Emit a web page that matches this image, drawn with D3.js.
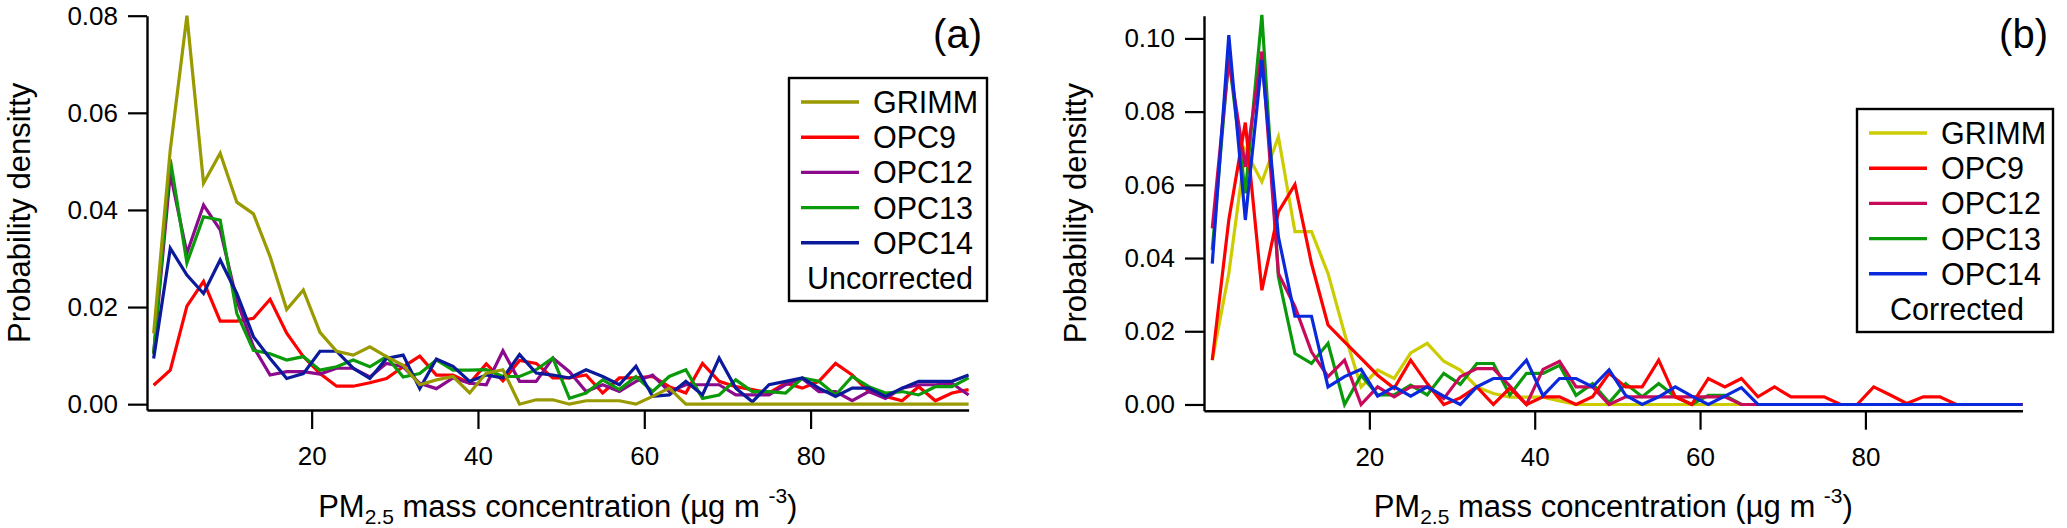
<!DOCTYPE html>
<html>
<head>
<meta charset="utf-8">
<script src="https://cdn.jsdelivr.net/npm/d3@7"></script>
<style>
  body { margin: 0; background: #fff; }
  text { font-family: "Liberation Sans", Arial, sans-serif; fill: #000; }
</style>
</head>
<body>
<div id="chart"></div>
<script>
// Bin centres (µg m-3), shared by both panels
const binCenters = [1, 3, 5, 7, 9, 11, 13, 15, 17, 19, 21, 23, 25, 27, 29, 31, 33, 35, 37, 39,
  41, 43, 45, 47, 49, 51, 53, 55, 57, 59, 61, 63, 65, 67, 69, 71, 73, 75, 77, 79,
  81, 83, 85, 87, 89, 91, 93, 95, 97, 99];

const seriesNames = ["GRIMM", "OPC9", "OPC12", "OPC13", "OPC14"];

// (a) uncorrected
const grimmA = [0.0146, 0.0524, 0.0800, 0.0455, 0.0517, 0.0416, 0.0392, 0.0304, 0.0195, 0.0235,
  0.0148, 0.0109, 0.0101, 0.0118, 0.0098, 0.0080, 0.0040, 0.0050, 0.0057, 0.0023,
  0.0064, 0.0071, 0.0000, 0.0009, 0.0009, 0.0000, 0.0007, 0.0007, 0.0007, 0.0000,
  0.0016, 0.0033, 0.0000, 0.0000, 0.0000, 0.0000, 0.0000, 0.0000, 0.0000, 0.0000,
  0.0000, 0.0000, 0.0000, 0.0000, 0.0000, 0.0000, 0.0000, 0.0000, 0.0000, 0.0000];
const opc9A = [0.0039, 0.0070, 0.0202, 0.0253, 0.0171, 0.0171, 0.0177, 0.0216, 0.0146, 0.0098,
  0.0063, 0.0037, 0.0037, 0.0044, 0.0053, 0.0077, 0.0099, 0.0060, 0.0060, 0.0043,
  0.0083, 0.0048, 0.0090, 0.0084, 0.0054, 0.0054, 0.0060, 0.0023, 0.0054, 0.0054,
  0.0057, 0.0036, 0.0023, 0.0084, 0.0047, 0.0036, 0.0030, 0.0023, 0.0043, 0.0033,
  0.0047, 0.0084, 0.0060, 0.0026, 0.0016, 0.0007, 0.0036, 0.0007, 0.0023, 0.0030];
const opc12A = [0.0104, 0.0475, 0.0311, 0.0410, 0.0359, 0.0214, 0.0118, 0.0060, 0.0067, 0.0067,
  0.0062, 0.0074, 0.0074, 0.0056, 0.0084, 0.0077, 0.0043, 0.0032, 0.0054, 0.0043,
  0.0040, 0.0110, 0.0047, 0.0047, 0.0095, 0.0067, 0.0026, 0.0040, 0.0026, 0.0047,
  0.0060, 0.0026, 0.0040, 0.0040, 0.0040, 0.0019, 0.0019, 0.0019, 0.0040, 0.0053,
  0.0026, 0.0026, 0.0007, 0.0026, 0.0012, 0.0033, 0.0040, 0.0040, 0.0043, 0.0019];
const opc13A = [0.0104, 0.0504, 0.0291, 0.0386, 0.0379, 0.0187, 0.0111, 0.0104, 0.0091, 0.0098,
  0.0070, 0.0077, 0.0091, 0.0077, 0.0098, 0.0056, 0.0063, 0.0091, 0.0070, 0.0070,
  0.0071, 0.0057, 0.0057, 0.0071, 0.0095, 0.0012, 0.0023, 0.0050, 0.0030, 0.0057,
  0.0026, 0.0057, 0.0071, 0.0012, 0.0019, 0.0050, 0.0026, 0.0026, 0.0023, 0.0054,
  0.0047, 0.0019, 0.0057, 0.0036, 0.0023, 0.0026, 0.0019, 0.0036, 0.0036, 0.0054];
const opc14A = [0.0094, 0.0321, 0.0266, 0.0228, 0.0297, 0.0228, 0.0139, 0.0094, 0.0053, 0.0063,
  0.0109, 0.0109, 0.0074, 0.0053, 0.0094, 0.0101, 0.0032, 0.0093, 0.0078, 0.0047,
  0.0060, 0.0054, 0.0102, 0.0064, 0.0060, 0.0054, 0.0071, 0.0057, 0.0040, 0.0078,
  0.0016, 0.0019, 0.0047, 0.0019, 0.0095, 0.0033, 0.0005, 0.0040, 0.0047, 0.0054,
  0.0033, 0.0016, 0.0033, 0.0033, 0.0016, 0.0033, 0.0047, 0.0047, 0.0047, 0.0060];

// (b) corrected
const grimmB = [0.0121, 0.0358, 0.0695, 0.0608, 0.0731, 0.0472, 0.0472, 0.0358, 0.0194, 0.0048,
  0.0094, 0.0071, 0.0141, 0.0167, 0.0118, 0.0094, 0.0048, 0.0030, 0.0020, 0.0020,
  0.0020, 0.0010, 0.0000, 0.0000, 0.0000, 0.0000, 0.0000, 0.0000, 0.0000, 0.0000,
  0.0000, 0.0000, 0.0000, 0.0000, 0.0000, 0.0000, 0.0000, 0.0000, 0.0000, 0.0000,
  0.0000, 0.0000, 0.0000, 0.0000, 0.0000, 0.0000, 0.0000, 0.0000, 0.0000, 0.0000];
const opc9B = [0.0121, 0.0504, 0.0770, 0.0312, 0.0526, 0.0601, 0.0385, 0.0217, 0.0171, 0.0126,
  0.0080, 0.0044, 0.0121, 0.0057, 0.0000, 0.0018, 0.0048, 0.0000, 0.0045, 0.0000,
  0.0021, 0.0021, 0.0000, 0.0021, 0.0085, 0.0048, 0.0048, 0.0121, 0.0021, 0.0000,
  0.0071, 0.0048, 0.0071, 0.0021, 0.0048, 0.0021, 0.0021, 0.0021, 0.0000, 0.0000,
  0.0048, 0.0026, 0.0003, 0.0021, 0.0021, 0.0000, 0.0000, 0.0000, 0.0000, 0.0000];
const opc12B = [0.0481, 0.0941, 0.0649, 0.0964, 0.0358, 0.0267, 0.0144, 0.0076, 0.0121, 0.0000,
  0.0048, 0.0021, 0.0048, 0.0048, 0.0016, 0.0076, 0.0098, 0.0098, 0.0050, 0.0000,
  0.0096, 0.0118, 0.0048, 0.0048, 0.0000, 0.0021, 0.0021, 0.0021, 0.0021, 0.0021,
  0.0021, 0.0021, 0.0000, 0.0000, 0.0000, 0.0000, 0.0000, 0.0000, 0.0000, 0.0000,
  0.0000, 0.0000, 0.0000, 0.0000, 0.0000, 0.0000, 0.0000, 0.0000, 0.0000, 0.0000];
const opc13B = [0.0422, 0.0950, 0.0577, 0.1064, 0.0349, 0.0139, 0.0112, 0.0167, 0.0000, 0.0080,
  0.0026, 0.0026, 0.0053, 0.0026, 0.0085, 0.0055, 0.0112, 0.0112, 0.0026, 0.0085,
  0.0085, 0.0107, 0.0025, 0.0057, 0.0005, 0.0057, 0.0021, 0.0057, 0.0021, 0.0000,
  0.0025, 0.0025, 0.0000, 0.0000, 0.0000, 0.0000, 0.0000, 0.0000, 0.0000, 0.0000,
  0.0000, 0.0000, 0.0000, 0.0000, 0.0000, 0.0000, 0.0000, 0.0000, 0.0000, 0.0000];
const opc14B = [0.0385, 0.1009, 0.0504, 0.0941, 0.0458, 0.0241, 0.0241, 0.0048, 0.0076, 0.0096,
  0.0023, 0.0048, 0.0023, 0.0048, 0.0023, 0.0000, 0.0048, 0.0071, 0.0071, 0.0121,
  0.0024, 0.0071, 0.0071, 0.0048, 0.0095, 0.0025, 0.0000, 0.0021, 0.0048, 0.0023,
  0.0000, 0.0023, 0.0046, 0.0000, 0.0000, 0.0000, 0.0000, 0.0000, 0.0000, 0.0000,
  0.0000, 0.0000, 0.0000, 0.0000, 0.0000, 0.0000, 0.0000, 0.0000, 0.0000, 0.0000];

const xTicks = [20, 40, 60, 80];
const yTicksA = [0, 0.02, 0.04, 0.06, 0.08];
const yTicksB = [0, 0.02, 0.04, 0.06, 0.08, 0.10];

const width = 2067;
const height = 528;

const svg = d3.select("#chart")
  .append("svg")
  .attr("width", width)
  .attr("height", height);

const panels = [
  {
    tag: "(a)", note: "Uncorrected",
    series: [grimmA, opc9A, opc12A, opc13A, opc14A],
    colors: ["#999900", "#ff0000", "#8c0a8c", "#0a9a0a", "#0a1a9a"],
    drawOrder: [1, 2, 3, 4, 0],
    yTicks: yTicksA,
    xDomain: [0.2, 99], xRange: [147, 968.6],
    yDomain: [-0.0012, 0.08], yRange: [410, 15.7],
    yLabelX: 30,
    legend: { x: 789, y: 78, w: 198, h: 223 }
  },
  {
    tag: "(b)", note: "Corrected",
    series: [grimmB, opc9B, opc12B, opc13B, opc14B],
    colors: ["#cccc00", "#ff0000", "#c80a5a", "#0a990a", "#0a28dc"],
    drawOrder: [0, 3, 2, 1, 4],
    yTicks: yTicksB,
    xDomain: [0, 99], xRange: [1204, 2022.5],
    yDomain: [-0.0017, 0.1062], yRange: [410.7, 15.7],
    yLabelX: 1086,
    legend: { x: 1857, y: 109, w: 196, h: 223 }
  }
];

panels.forEach(drawPanel);

function drawPanel(p) {
  const x = d3.scaleLinear().domain(p.xDomain).range(p.xRange);
  const y = d3.scaleLinear().domain(p.yDomain).range(p.yRange);
  const g = svg.append("g");

  // lines
  const line = d3.line()
    .x((d, i) => x(binCenters[i]))
    .y(d => y(d));

  g.selectAll(".series")
    .data(p.drawOrder)
    .enter()
    .append("path")
    .attr("class", "series")
    .attr("d", k => line(p.series[k]))
    .attr("fill", "none")
    .attr("stroke", k => p.colors[k])
    .attr("stroke-width", 3.2)
    .attr("stroke-linejoin", "miter");

  // axes
  const xAxis = d3.axisBottom(x)
    .tickValues(xTicks)
    .tickSize(19)
    .tickSizeOuter(0)
    .tickPadding(18)
    .tickFormat(d3.format("d"));

  const yAxis = d3.axisLeft(y)
    .tickValues(p.yTicks)
    .tickSize(19)
    .tickSizeOuter(0)
    .tickPadding(10)
    .tickFormat(d3.format(".2f"));

  const gx = g.append("g")
    .attr("transform", `translate(0, ${p.yRange[0]})`)
    .call(xAxis);

  const gy = g.append("g")
    .attr("transform", `translate(${p.xRange[0]}, 0)`)
    .call(yAxis);

  [gx, gy].forEach(a => {
    a.select(".domain").attr("stroke", "#000").attr("stroke-width", 2.4);
    a.selectAll(".tick line").attr("stroke", "#000").attr("stroke-width", 2.2);
    a.selectAll(".tick text")
      .attr("font-size", "26px")
      .attr("font-family", "'Liberation Sans', Arial, sans-serif")
      .attr("fill", "#000");
  });

  // axis titles
  const cx = (p.xRange[0] + p.xRange[1]) / 2;
  const xt = g.append("text")
    .attr("x", cx)
    .attr("y", 517)
    .attr("text-anchor", "middle")
    .attr("font-size", "31px");
  xt.append("tspan").text("PM");
  xt.append("tspan").attr("dy", 7).attr("font-size", "21px").text("2.5");
  xt.append("tspan").attr("dy", -7).text(" mass concentration (µg m ");
  xt.append("tspan").attr("dy", -14).attr("font-size", "21px").text("-3");
  xt.append("tspan").attr("dy", 14).text(")");

  const cy = (p.yRange[0] + p.yRange[1]) / 2;
  g.append("text")
    .attr("transform", `translate(${p.yLabelX}, ${cy}) rotate(-90)`)
    .attr("text-anchor", "middle")
    .attr("font-size", "31px")
    .text("Probability densitty");

  // panel tag
  g.append("text")
    .attr("x", p.legend.x + p.legend.w - 5)
    .attr("y", 48)
    .attr("text-anchor", "end")
    .attr("font-size", "40px")
    .text(p.tag);

  // legend
  const L = p.legend;
  const lg = g.append("g").attr("transform", `translate(${L.x}, ${L.y})`);
  lg.append("rect")
    .attr("width", L.w)
    .attr("height", L.h)
    .attr("fill", "#fff")
    .attr("stroke", "#000")
    .attr("stroke-width", 2.4);

  const rows = lg.selectAll(".row")
    .data(seriesNames)
    .enter()
    .append("g")
    .attr("class", "row")
    .attr("transform", (d, i) => `translate(0, ${24 + i * 35.2})`);

  rows.append("line")
    .attr("x1", 12)
    .attr("x2", 70)
    .attr("stroke", (d, i) => p.colors[i])
    .attr("stroke-width", 3.4);

  rows.append("text")
    .attr("x", 84)
    .attr("dy", "0.36em")
    .attr("font-size", "30.5px")
    .text(d => d);

  lg.append("text")
    .attr("x", L.w / 2 + 2)
    .attr("y", 24 + 5 * 35.2)
    .attr("dy", "0.36em")
    .attr("text-anchor", "middle")
    .attr("font-size", "30.5px")
    .text(p.note);
}
</script>
</body>
</html>
